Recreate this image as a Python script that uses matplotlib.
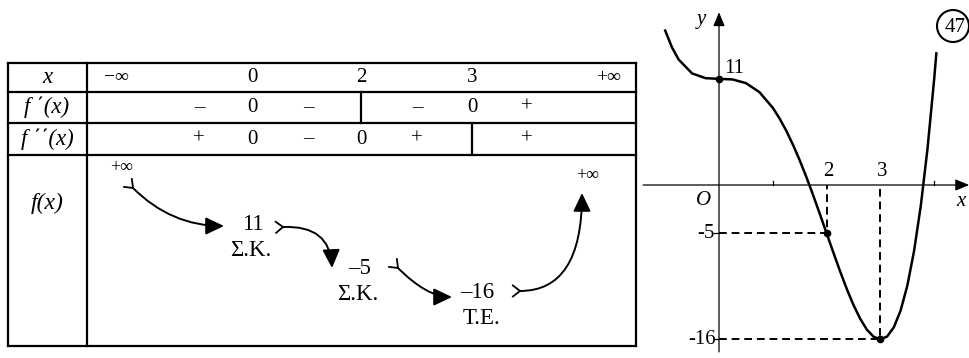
import matplotlib.pyplot as plt
from matplotlib.path import Path
from matplotlib.patches import FancyArrowPatch, Circle
import numpy as np

plt.rcParams['font.family'] = ['Liberation Serif', 'DejaVu Serif']

# table of variations
x_row = ['−∞', '0', '2', '3', '+∞']
fp_row = ['', '–', '0', '–', '|', '–', '0', '+', '']
fpp_row = ['', '+', '0', '–', '0', '+', '|', '+', '']
row_names = ['x', 'f ΄(x)', 'f ΄΄(x)', 'f(x)']
f_values = ['+∞', '11', '–5', '–16', '+∞']
f_notes = ['', 'Σ.Κ.', 'Σ.Κ.', 'Τ.Ε.', '']

# graph of f
curve_x = [-1.0, -0.875, -0.75, -0.5, -0.25, 0.0, 0.25, 0.5, 0.75, 1.0,
           1.125, 1.25, 1.375, 1.5, 1.625, 1.75, 1.875, 2.0, 2.125, 2.25,
           2.375, 2.5, 2.625, 2.75, 2.875, 3.0, 3.125, 3.25, 3.375, 3.5,
           3.625, 3.75, 3.875, 4.0, 4.04]
curve_y = [16.0, 14.27, 13.0, 11.56, 11.07, 11.0, 10.94, 10.56, 9.63, 8.0,
           6.9, 5.63, 4.17, 2.56, 0.81, -1.06, -3.01, -5.0, -6.99, -8.93,
           -10.77, -12.44, -13.87, -15.0, -15.73, -16.0, -15.7, -14.74, -13.02, -10.44,
           -6.86, -2.19, 3.73, 11.0, 13.64]
pt_x = [0, 2, 3]
pt_y = [11, -5, -16]
y_labels = ['11', '-5', '-16']
x_labels = ['2', '3']
x_ticks = [1, 4]

fig = plt.figure(figsize=(9.69, 3.58), dpi=100)

# ---- table (pixel coordinates) ----
ax = fig.add_axes([0, 0, 1, 1])
ax.set_xlim(0, 969)
ax.set_ylim(358, 0)
ax.axis('off')

left, divider, right = 8, 87, 636
rows = [63, 92, 123, 155, 346]
slots = [116, 199, 252, 308, 361, 417, 472, 527, 608]
lw = 1.6

for y in rows:
    ax.plot([left, right], [y, y], color='black', lw=lw, solid_capstyle='projecting')
for x in (left, divider, right):
    ax.plot([x, x], [rows[0], rows[-1]], color='black', lw=lw, solid_capstyle='projecting')

fs = 15
centers = [(rows[i] + rows[i + 1]) / 2 for i in range(3)]
for name, yc in zip(row_names[:3], centers):
    ax.text(47, yc, name, fontsize=16.5, style='italic', ha='center', va='center')
ax.text(47, 203, row_names[3], fontsize=17, style='italic', ha='center', va='center')

for lab, s in zip(x_row, slots[::2]):
    ax.text(s, centers[0], lab, fontsize=fs if lab[-1] != '∞' else 14,
            ha='center', va='center')

for r, row in enumerate([fp_row, fpp_row]):
    yc = centers[r + 1]
    for s, lab in zip(slots, row):
        if lab == '|':
            ax.plot([s, s], [rows[r + 1], rows[r + 2]], color='black', lw=lw)
        elif lab:
            ax.text(s, yc, lab, fontsize=fs, ha='center', va='center')

val_pos = [(122, 168), (253, 225), (360, 268), (477, 293), (588, 175)]
for lab, note, (px, py) in zip(f_values, f_notes, val_pos):
    ax.text(px, py, lab, fontsize=13 if '∞' in lab else 16.5, ha='center', va='center')
    if note:
        ax.text(px + (5 if note.startswith('Τ') else -2), py + 26, note,
                fontsize=16.5, ha='center', va='center')

arrows = [((133, 188), (171, 226), (224, 226)),
          ((283, 227), (330, 225), (332, 268)),
          ((398, 268), (427, 297), (452, 297)),
          ((520, 291), (582, 291), (582, 193))]
for p0, c, p2 in arrows:
    path = Path([p0, c, p2], [Path.MOVETO, Path.CURVE3, Path.CURVE3])
    ax.add_patch(FancyArrowPatch(path=path, arrowstyle='-|>,head_length=0.8,head_width=0.38',
                                 mutation_scale=14, color='black', lw=1.4))
    d = np.array(c, float) - np.array(p0, float)
    d = -d / np.hypot(*d)
    for ang in (np.radians(38), -np.radians(38)):
        rot = np.array([[np.cos(ang), -np.sin(ang)], [np.sin(ang), np.cos(ang)]])
        e = np.array(p0) + 9 * rot @ d
        ax.plot([p0[0], e[0]], [p0[1], e[1]], color='black', lw=1.3)

ax.add_patch(Circle((953, 26), 16, fill=False, lw=1.5, color='black'))
ax.text(955, 27, '47', fontsize=fs, ha='center', va='center')

# ---- graph of f ----
gx = fig.add_axes([640 / 969, 0, 329 / 969, 1])
gx.set_xlim((640 - 719) / 53.8, (969 - 719) / 53.8)
gx.set_ylim(-(358 - 185) / 9.65, 185 / 9.65)
gx.axis('off')

gx.annotate('', xy=(4.65, 0), xytext=(-1.41, 0),
            arrowprops=dict(arrowstyle='-|>,head_length=0.6,head_width=0.25',
                            mutation_scale=14, color='black', lw=0.9, shrinkA=0, shrinkB=0))
gx.annotate('', xy=(0, 17.9), xytext=(0, -17.3),
            arrowprops=dict(arrowstyle='-|>,head_length=0.6,head_width=0.25',
                            mutation_scale=14, color='black', lw=0.9, shrinkA=0, shrinkB=0))
for t in x_ticks:
    gx.plot([t, t], [0, 0.45], color='black', lw=0.9)
for v in pt_y[1:]:
    gx.plot([-0.1, 0], [v, v], color='black', lw=0.9)

for px, py in zip(pt_x[1:], pt_y[1:]):
    gx.plot([0, px, px], [py, py, 0], color='black', lw=1.4, ls=(0, (4, 2.5)))

gx.plot(curve_x, curve_y, color='black', lw=1.8)
gx.plot(pt_x, pt_y, 'o', color='black', ms=4.5)

gfs = 15
gx.text(0.1, 12.1, y_labels[0], fontsize=gfs, ha='left', va='center')
gx.text(-0.08, -5, y_labels[1], fontsize=gfs, ha='right', va='center')
gx.text(-0.05, -16, y_labels[2], fontsize=gfs, ha='right', va='center')
for lab, px in zip(x_labels, pt_x[1:]):
    gx.text(px + 0.03, 1.35, lab, fontsize=gfs, ha='center', va='center')
gx.text(-0.28, -1.6, 'O', fontsize=gfs, style='italic', ha='center', va='center')
gx.text(-0.32, 17.1, 'y', fontsize=gfs, style='italic', ha='center', va='center')
gx.text(4.5, -1.7, 'x', fontsize=gfs, style='italic', ha='center', va='center')

fig.savefig('out.png', dpi=100)
